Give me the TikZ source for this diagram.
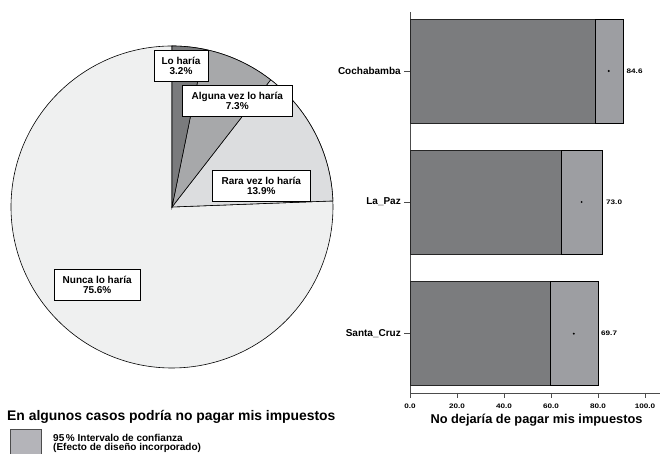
\documentclass[tikz,border=0pt]{standalone}
\usepackage{fontspec}
\setmainfont{Liberation Sans}
\newfontfamily\widefont[FakeStretch=1.25]{Liberation Sans}
\definecolor{pieA}{HTML}{7A7B7D}
\definecolor{pieB}{HTML}{A7A8AA}
\definecolor{pieC}{HTML}{DCDDDF}
\definecolor{pieD}{HTML}{EFF0F0}
\definecolor{bardark}{HTML}{7B7C7E}
\definecolor{barci}{HTML}{9D9EA2}
\definecolor{legbox}{HTML}{B4B4B9}
\tikzset{
  slice/.style={draw=black, line width=0.6pt},
  lbl/.style={draw=black, fill=white, line width=0.6pt, align=center, inner sep=0pt,
    minimum height=31pt, font=\bfseries\fontsize{10}{10}\selectfont},
  meanbar/.style={fill=bardark, draw=black!85, line width=0.8pt},
  cibox/.style={fill=barci, draw=black, line width=0.8pt},
  axisline/.style={draw=black!70, line width=0.7pt},
  ticklbl/.style={inner sep=0pt, font=\widefont\bfseries\fontsize{6.5}{6.5}\selectfont},
  catlbl/.style={anchor=east, inner sep=0pt, font=\bfseries\fontsize{10}{10}\selectfont},
  vallbl/.style={anchor=west, inner sep=0pt, font=\widefont\bfseries\fontsize{6.5}{6.5}\selectfont},
}
\begin{document}
\begin{tikzpicture}[x=1pt,y=1pt]
\useasboundingbox (0,0) rectangle (660,454);
% ---------------- pie ----------------
\begin{scope}[shift={(172,247)}]
  \filldraw[slice, fill=pieD] (0,0) -- (2.16:161) arc[start angle=2.16, end angle=90, radius=161] -- cycle;
  \filldraw[slice, fill=pieD] (0,0) -- (90:161) arc[start angle=90, end angle=362.16, radius=161] -- cycle;
  \filldraw[slice, fill=pieC] (0,0) -- (52.2:161) arc[start angle=52.2, end angle=2.16, radius=161] -- cycle;
  \filldraw[slice, fill=pieB] (0,0) -- (78.48:161) arc[start angle=78.48, end angle=52.2, radius=161] -- cycle;
  \filldraw[slice, fill=pieA] (0,0) -- (90:161) arc[start angle=90, end angle=78.48, radius=161] -- cycle;
\end{scope}
\node[lbl, minimum width=54pt] (lo) at (181,388) {Lo haría\\3.2\%};
\node[lbl, minimum width=110pt] (alguna) at (237.3,353.5) {Alguna vez lo haría\\7.3\%};
\node[lbl, minimum width=98pt] (rara) at (261.3,268.5) {Rara vez lo haría\\13.9\%};
\node[lbl, minimum width=86pt] (nunca) at (97.2,169) {Nunca lo haría\\75.6\%};
% ---------------- bar chart axes ----------------
\draw[axisline] (410,61) -- (410,442);
\draw[axisline] (410,61) -- (660,61);
\foreach \v/\t in {0/0.0,20/20.0,40/40.0,60/60.0,80/80.0,100/100.0}{
  \draw[axisline] ({410+2.35*\v},61) -- ({410+2.35*\v},56);
  \node[ticklbl] at ({410+2.35*\v},47.3) {\t};
}
% Cochabamba
\filldraw[meanbar] (410,331) rectangle (608.8,435);
\filldraw[cibox] (595.3,331) rectangle (623.7,435);
\fill (608.8,383) circle (1.1);
\node[vallbl] (vcoch) at (626.5,383) {84.6};
\draw[axisline] (404,383) -- (410,383);
\node[catlbl] (coch) at (401,383) {Cochabamba};
% La Paz
\filldraw[meanbar] (410,200) rectangle (581.6,304);
\filldraw[cibox] (561.7,200) rectangle (602.7,304);
\fill (581.6,252) circle (1.1);
\node[vallbl] (vlpz) at (606,252) {73.0};
\draw[axisline] (404,252) -- (410,252);
\node[catlbl] (lpz) at (401,252) {La\_Paz};
% Santa Cruz
\filldraw[meanbar] (410,68.3) rectangle (573.8,172.3);
\filldraw[cibox] (550.7,68.3) rectangle (598.3,172.3);
\fill (573.8,120.3) circle (1.1);
\node[vallbl] (vscz) at (601,120.3) {69.7};
\draw[axisline] (404,120.3) -- (410,120.3);
\node[catlbl] (scz) at (401,120.3) {Santa\_Cruz};
\node[inner sep=0pt, font=\bfseries\fontsize{12.8}{12.8}\selectfont] (xtitle) at (536.5,34) {No dejaría de pagar mis impuestos};
% ---------------- legend ----------------
\node[anchor=west, inner sep=0pt, font=\bfseries\fontsize{13.9}{13.9}\selectfont] (legtitle) at (7,37.3) {En algunos casos podría no pagar mis impuestos};
\filldraw[fill=legbox, draw=black!70, line width=0.6pt] (10,-2) rectangle (41,24.7);
\node[anchor=west, inner sep=0pt, font=\bfseries\fontsize{10}{10}\selectfont] (leg1) at (53,16.3) {95\,\% Intervalo de confianza};
\node[anchor=west, inner sep=0pt, font=\bfseries\fontsize{10}{10}\selectfont] (leg2) at (53,6) {(Efecto de diseño incorporado)};
\end{tikzpicture}
\end{document}
